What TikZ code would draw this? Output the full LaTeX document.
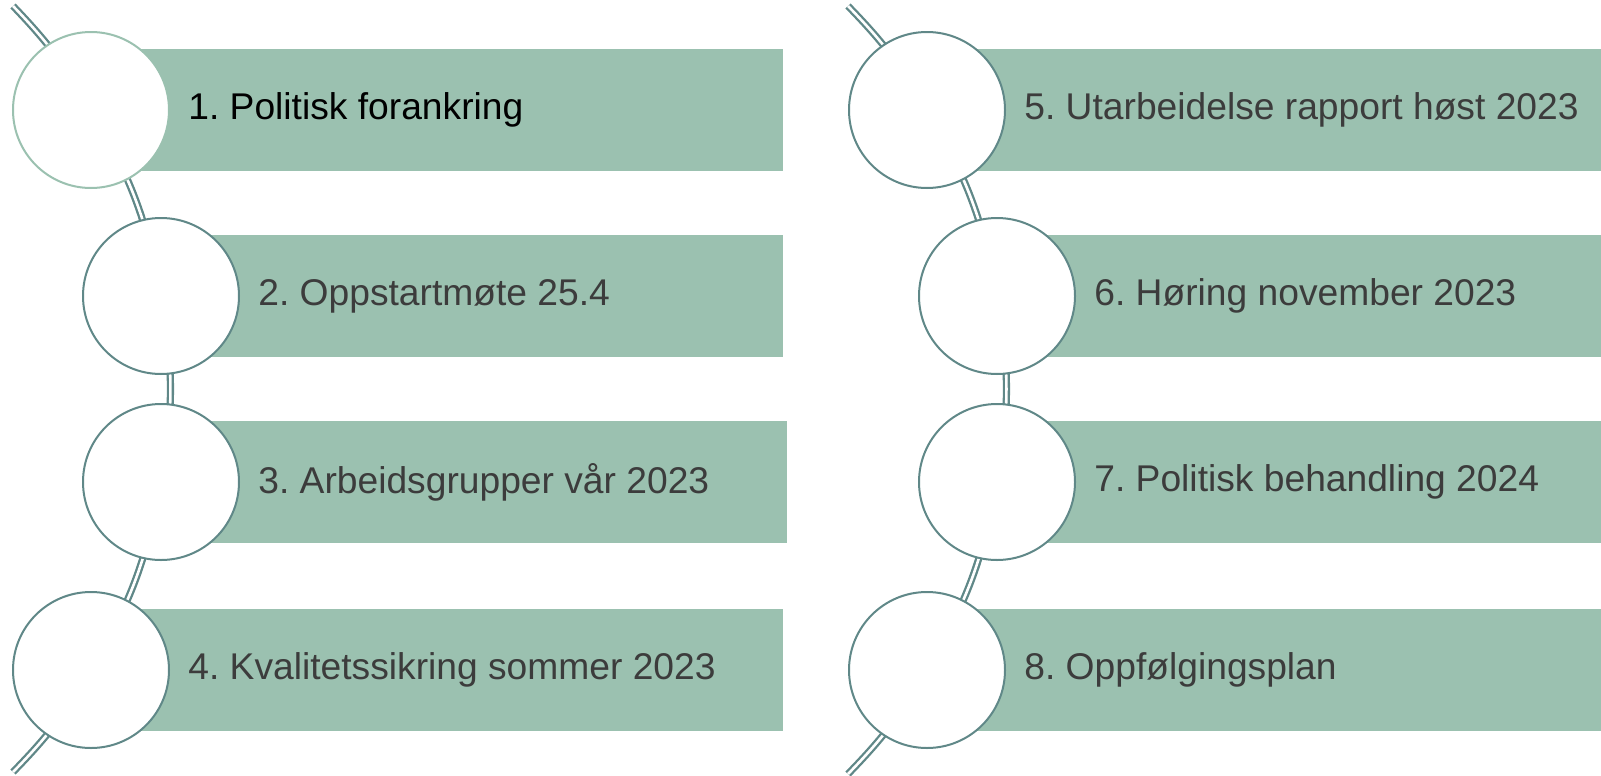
\documentclass[tikz,border=0pt]{standalone}
\usepackage{fontspec}
\setmainfont{Liberation Sans}
\usetikzlibrary{positioning,backgrounds}

\definecolor{barfill}{RGB}{155,193,176}
\definecolor{ringline}{RGB}{96,136,136}
\definecolor{labeltext}{RGB}{60,60,60}

\tikzset{
  disc/.style={circle, draw=ringline, line width=1pt, fill=white, minimum size=78pt, inner sep=0pt},
  bar/.style={fill=barfill, inner sep=0pt, minimum height=61pt, anchor=west},
  lbl/.style={font=\fontsize{18.6}{22}\selectfont, text=labeltext, inner sep=0pt, anchor=west},
  conn/.style={draw=ringline, double=white, line width=1.15pt, double distance=1.3pt},
}
\frenchspacing

\begin{document}
\begin{tikzpicture}[x=0.5pt,y=0.5pt,yscale=-1,xscale=1]
\useasboundingbox (0,0) rectangle (1601,776);

%Circles: left column
\node[disc, draw=barfill] (c1) at (91,110) {};
\node[disc] (c2) at (161,296) {};
\node[disc] (c3) at (161,482) {};
\node[disc] (c4) at (91,670) {};
%Circles: right column
\node[disc] (c5) at (927,110) {};
\node[disc] (c6) at (997,296) {};
\node[disc] (c7) at (997,482) {};
\node[disc] (c8) at (927,670) {};

%Free ends of the arcs
\coordinate (topL) at (13,6);
\coordinate (botL) at (13,772);
\coordinate (topR) at (848,6);
\coordinate (botR) at (848,774);

% Text Node
\node[lbl, text=black, right=9pt of c1] (t1) {1. Politisk forankring};
\node[lbl, right=9pt of c2] (t2) {2. Oppstartmøte 25.4};
\node[lbl, right=9pt of c3] (t3) {3. Arbeidsgrupper vår 2023};
\node[lbl, right=9pt of c4] (t4) {4. Kvalitetssikring sommer 2023};
\node[lbl, right=9pt of c5] (t5) {5. Utarbeidelse rapport høst 2023};
\node[lbl, right=9pt of c6] (t6) {6. Høring november 2023};
\node[lbl, right=9pt of c7] (t7) {7. Politisk behandling 2024};
\node[lbl, right=9pt of c8] (t8) {8. Oppfølgingsplan};

\begin{pgfonlayer}{background}
%Bars
\node[bar, minimum width=346pt] (b1) at (c1.center) {};
\node[bar, minimum width=311pt] (b2) at (c2.center) {};
\node[bar, minimum width=313pt] (b3) at (c3.center) {};
\node[bar, minimum width=346pt] (b4) at (c4.center) {};
\node[bar, minimum width=337pt] (b5) at (c5.center) {};
\node[bar, minimum width=302pt] (b6) at (c6.center) {};
\node[bar, minimum width=302pt] (b7) at (c7.center) {};
\node[bar, minimum width=337pt] (b8) at (c8.center) {};
%Curved double connectors
\draw[conn] (topL) to[bend right=7] (c1.center) to[bend right=10] (c2.center)
  to[bend right=10] (c3.center) to[bend right=10] (c4.center) to[bend right=7] (botL);
\draw[conn] (topR) to[bend right=7] (c5.center) to[bend right=10] (c6.center)
  to[bend right=10] (c7.center) to[bend right=10] (c8.center) to[bend right=7] (botR);
\end{pgfonlayer}

\end{tikzpicture}
\end{document}
